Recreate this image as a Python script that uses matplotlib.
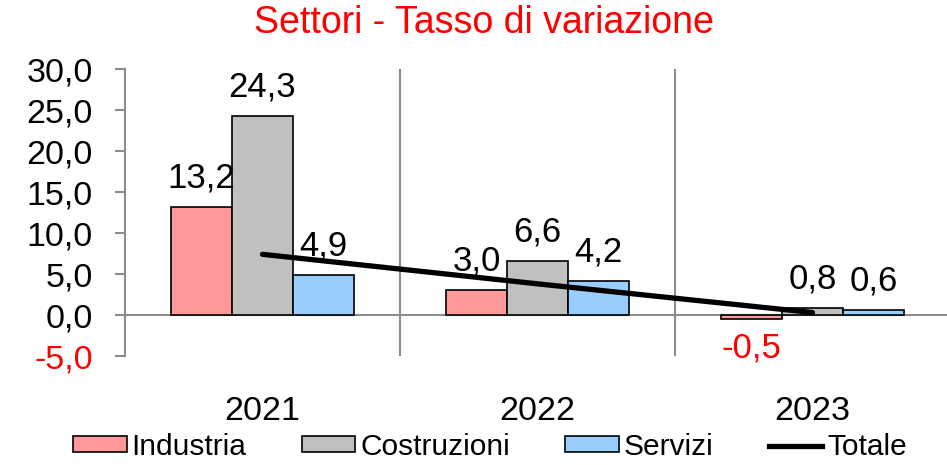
import matplotlib
matplotlib.use("Agg")
import matplotlib.pyplot as plt
import numpy as np
from matplotlib.patches import Patch
from matplotlib.lines import Line2D

plt.rcParams['font.family'] = ['Liberation Sans', 'DejaVu Sans']

years = ['2021', '2022', '2023']
industria = [13.2, 3.0, -0.5]
costruzioni = [24.3, 6.6, 0.8]
servizi = [4.9, 4.2, 0.6]
totale = [7.4, 3.8, 0.3]
yticks = [-5, 0, 5, 10, 15, 20, 25, 30]

col_ind = '#FF9999'
col_cos = '#C0C0C0'
col_ser = '#99CCFF'
grid_col = '#8C8C8C'

fig = plt.figure(figsize=(9.47, 4.65), dpi=100)
ax = fig.add_axes([125/947, 109/465, 825/947, 287/465])

x = np.arange(len(years))
w = 0.222
series = [(industria, col_ind, -w), (costruzioni, col_cos, 0), (servizi, col_ser, w)]
for vals, col, off in series:
    bars = ax.bar(x + off, vals, w, color=col, edgecolor='black', linewidth=1.2, zorder=3)
    for b, v in zip(bars, vals):
        lab = f"{v:.1f}".replace('.', ',')
        cx = b.get_x() + b.get_width() / 2
        if v >= 0:
            ax.annotate(lab, (cx, v), xytext=(0, 9), textcoords='offset points',
                        ha='center', va='bottom', fontsize=25, color='black', zorder=5)
        else:
            ax.annotate(lab, (cx, v), xytext=(0, -9), textcoords='offset points',
                        ha='center', va='top', fontsize=25, color='red', zorder=5)

ax.plot(x, totale, color='black', linewidth=3.8, zorder=4, solid_capstyle='round')

ax.set_xlim(-0.5, 2.5)
ax.set_ylim(-5, 30)
ax.axhline(0, color=grid_col, linewidth=1.5, zorder=2)
for b in [0.5, 1.5]:
    ax.axvline(b, color=grid_col, linewidth=1.5, zorder=1)

for s in ['top', 'right', 'bottom']:
    ax.spines[s].set_visible(False)
ax.spines['left'].set_color(grid_col)
ax.spines['left'].set_linewidth(1.5)

ax.set_yticks(yticks)
ax.set_yticklabels([f"{t:.1f}".replace('.', ',') for t in yticks], fontsize=24.5)
for lbl, t in zip(ax.get_yticklabels(), yticks):
    if t < 0:
        lbl.set_color('red')
ax.tick_params(axis='y', length=7, width=1.5, color=grid_col, pad=16)
ax.set_xticks(x)
ax.set_xticklabels(years, fontsize=24.5)
ax.tick_params(axis='x', length=0, pad=29)

fig.text(484/947, 1 - 23/465, 'Settori - Tasso di variazione', color='red',
         fontsize=27, ha='center', va='center')

handles = [Patch(facecolor=col_ind, edgecolor='black', linewidth=1.2, label='Industria'),
           Patch(facecolor=col_cos, edgecolor='black', linewidth=1.2, label='Costruzioni'),
           Patch(facecolor=col_ser, edgecolor='black', linewidth=1.2, label='Servizi'),
           Line2D([0], [0], color='black', linewidth=3.8, label='Totale')]
fig.legend(handles=handles, loc='center', bbox_to_anchor=(490/947, 1 - 447/465),
           ncol=4, frameon=False, fontsize=21.5, handlelength=1.8, handleheight=0.45,
           handletextpad=0.16, columnspacing=1.85, borderpad=0)

fig.savefig('out.png', dpi=100)
